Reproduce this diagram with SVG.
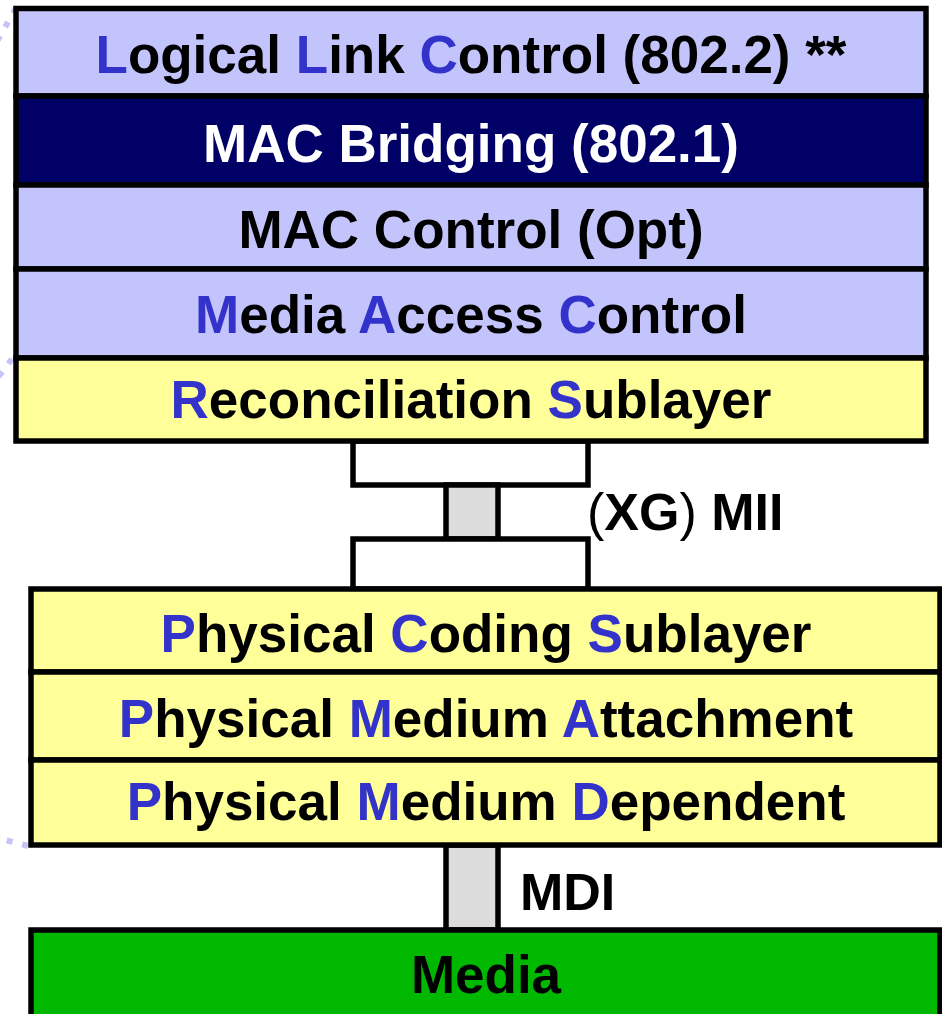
<svg xmlns="http://www.w3.org/2000/svg" width="942" height="1014" viewBox="0 0 942 1014">
<style>
.box{stroke:#000;stroke-width:5.5}
.lav{fill:#c4c4fd}
.navy{fill:#000066}
.yel{fill:#ffff99}
.grn{fill:#00b800}
.gry{fill:#dcdcdc}
.wht{fill:#fff}
.t{font-family:"Liberation Sans",Arial,sans-serif;font-weight:bold;font-size:53px;text-anchor:middle;fill:#000}
.tl{font-family:"Liberation Sans",Arial,sans-serif;font-weight:bold;font-size:52px;fill:#000}
.b{fill:#3333cc}
.w{fill:#fff}
.dot{stroke:#c4c4f8;stroke-width:6;stroke-dasharray:6 10;fill:none}
</style>
<g id="guides">
<line class="dot" x1="16" y1="8" x2="-8" y2="50"/>
<line class="dot" x1="12" y1="359" x2="-8" y2="385"/>
<line class="dot" x1="28" y1="846" x2="-10" y2="836"/>
</g>
<g id="connectors">
<rect id="mii-top" class="box wht" x="353" y="441" width="235" height="44"/>
<rect id="mii-link" class="box gry" x="446" y="485" width="52" height="54"/>
<rect id="mii-bot" class="box wht" x="353" y="539" width="235" height="50"/>
<text class="tl" x="587" y="530"><tspan font-weight="normal">(</tspan>XG<tspan font-weight="normal">)</tspan> MII</text>
<rect id="mdi-link" class="box gry" x="446" y="845" width="52" height="85"/>
<text class="tl" x="520" y="910">MDI</text>
</g>
<g id="llc">
<rect class="box lav" x="16" y="8.5" width="910" height="87.5"/>
<text class="t" x="471" y="73"><tspan class="b">L</tspan>ogical <tspan class="b">L</tspan>ink <tspan class="b">C</tspan>ontrol (802.2) **</text>
</g>
<g id="bridging">
<rect class="box navy" x="16" y="96" width="910" height="89"/>
<text class="t w" x="471" y="162">MAC Bridging (802.1)</text>
</g>
<g id="mac-control">
<rect class="box lav" x="16" y="185" width="910" height="84"/>
<text class="t" x="471" y="248">MAC Control (Opt)</text>
</g>
<g id="mac">
<rect class="box lav" x="16" y="269" width="910" height="89"/>
<text class="t" x="471" y="333"><tspan class="b">M</tspan>edia <tspan class="b">A</tspan>ccess <tspan class="b">C</tspan>ontrol</text>
</g>
<g id="rs">
<rect class="box yel" x="16" y="358" width="910" height="83"/>
<text class="t" x="471" y="418"><tspan class="b">R</tspan>econciliation <tspan class="b">S</tspan>ublayer</text>
</g>
<g id="pcs">
<rect class="box yel" x="31" y="589" width="909" height="83"/>
<text class="t" x="486" y="652"><tspan class="b">P</tspan>hysical <tspan class="b">C</tspan>oding <tspan class="b">S</tspan>ublayer</text>
</g>
<g id="pma">
<rect class="box yel" x="31" y="672" width="909" height="88"/>
<text class="t" x="486" y="737"><tspan class="b">P</tspan>hysical <tspan class="b">M</tspan>edium <tspan class="b">A</tspan>ttachment</text>
</g>
<g id="pmd">
<rect class="box yel" x="31" y="760" width="909" height="85"/>
<text class="t" x="486" y="820"><tspan class="b">P</tspan>hysical <tspan class="b">M</tspan>edium <tspan class="b">D</tspan>ependent</text>
</g>
<g id="media">
<rect class="box grn" x="31" y="930" width="909" height="110"/>
<text class="t" x="486" y="993">Media</text>
</g>
</svg>
